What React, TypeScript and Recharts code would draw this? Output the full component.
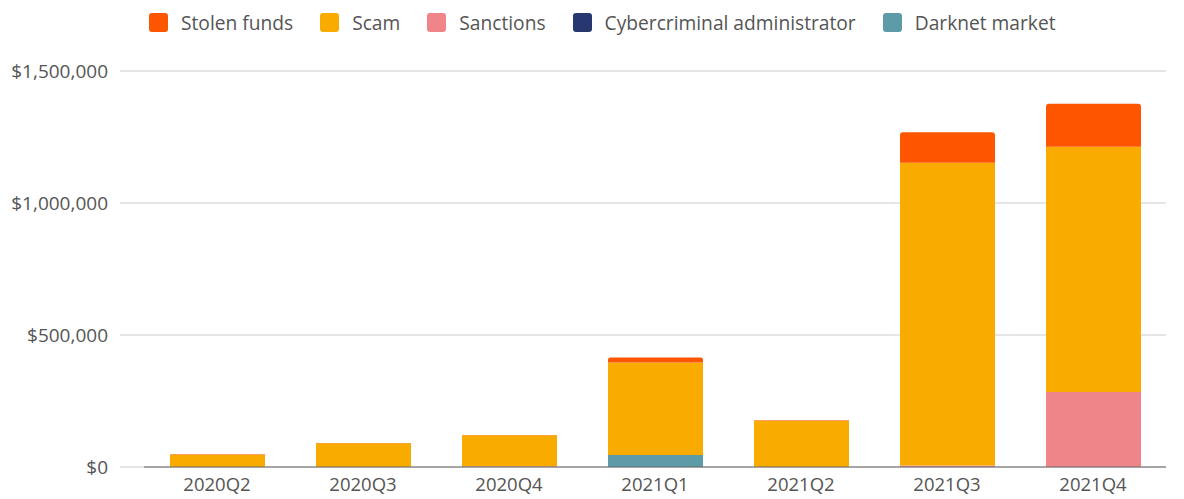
import { BarChart, Bar, XAxis, YAxis, CartesianGrid } from 'recharts'

const quarters = ['2020Q2', '2020Q3', '2020Q4', '2021Q1', '2021Q2', '2021Q3', '2021Q4']
const darknet = [0, 0, 0, 45000, 0, 0, 0]
const cyber = [0, 0, 0, 0, 0, 0, 0]
const sanctions = [0, 0, 2500, 0, 0, 6000, 284000]
const scam = [46500, 89500, 117500, 351000, 175000, 1146000, 929000]
const stolen = [1500, 1500, 1500, 19000, 2500, 116000, 163000]
const yTicks = [0, 500000, 1000000, 1500000]

// legend order as in the original (top of stack first)
const legendItems = [
  { name: 'Stolen funds', color: '#fe5500' },
  { name: 'Scam', color: '#faab00' },
  { name: 'Sanctions', color: '#ef8588' },
  { name: 'Cybercriminal administrator', color: '#27376f' },
  { name: 'Darknet market', color: '#5c9ba7' },
]

const data = quarters.map((q, i) => ({
  q,
  darknet: darknet[i],
  cyber: cyber[i],
  sanctions: sanctions[i],
  scam: scam[i],
  stolen: stolen[i],
}))

const font = '"Open Sans", Lato, sans-serif'
const fmt = (v: number) => '$' + v.toLocaleString('en-US')

export default function App() {
  return (
    <div style={{ position: 'absolute', left: 0, top: 0, width: 1184, height: 499, fontFamily: font, background: '#fff' }}>
      <div style={{ position: 'absolute', top: 9, left: 149, display: 'flex', alignItems: 'center', gap: 27 }}>
        {legendItems.map(it => (
          <div key={it.name} style={{ display: 'flex', alignItems: 'center', gap: 13 }}>
            <div style={{ width: 19, height: 19, borderRadius: 3, backgroundColor: it.color }} />
            <span style={{ color: '#555', fontSize: 19.2 }}>{it.name}</span>
          </div>
        ))}
      </div>
      <BarChart width={1184} height={499} data={data} margin={{ top: 71, right: 18, bottom: 0, left: 0 }}>
        <CartesianGrid vertical={false} stroke="#cccccc" />
        <XAxis dataKey="q" height={32} tickLine={false} tickSize={0} tickMargin={11}
          axisLine={{ stroke: '#666' }}
          tick={{ fill: '#555', fontSize: 18.5, fontFamily: font }} />
        <YAxis width={144} domain={[0, 1500000]} ticks={yTicks} tickFormatter={fmt}
          axisLine={false} tickSize={24} tickMargin={12} tickLine={{ stroke: '#cccccc' }}
          tick={{ fill: '#555', fontSize: 19, fontFamily: font }} />
        <Bar dataKey="darknet" stackId="a" fill="#5c9ba7" barSize={95} isAnimationActive={false} />
        <Bar dataKey="cyber" stackId="a" fill="#27376f" barSize={95} isAnimationActive={false} />
        <Bar dataKey="sanctions" stackId="a" fill="#ef8588" barSize={95} isAnimationActive={false} />
        <Bar dataKey="scam" stackId="a" fill="#faab00" barSize={95} isAnimationActive={false} />
        <Bar dataKey="stolen" stackId="a" fill="#fe5500" barSize={95} radius={[3, 3, 0, 0]} isAnimationActive={false} />
      </BarChart>
    </div>
  )
}
